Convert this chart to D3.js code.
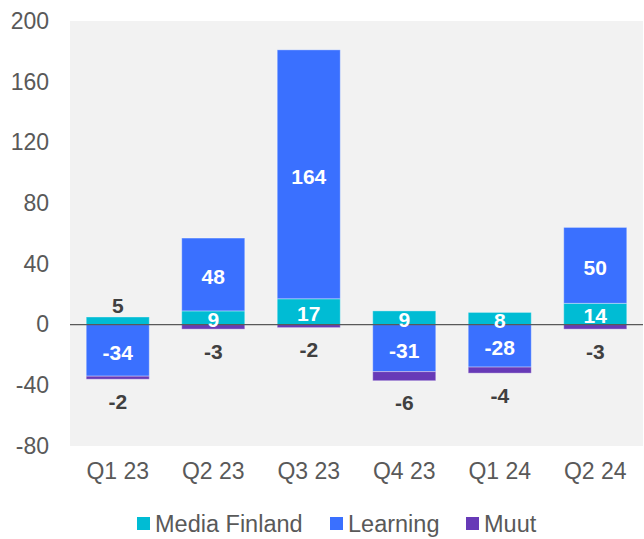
<!DOCTYPE html>
<html>
<head>
<meta charset="utf-8">
<script src="https://cdn.jsdelivr.net/npm/d3@7"></script>
<style>
    body { margin: 0; background: #fff; }
    text { font-family: "Liberation Sans", Arial, sans-serif; }
</style>
</head>
<body>
<div id="chart"></div>
<script>
const quarters = ["Q1 23", "Q2 23", "Q3 23", "Q4 23", "Q1 24", "Q2 24"];
const mediaFinland = [5, 9, 17, 9, 8, 14];
const learning = [-34, 48, 164, -31, -28, 50];
const muut = [-2, -3, -2, -6, -4, -3];
const seriesNames = ["Media Finland", "Learning", "Muut"];
const yTicks = [-80, -40, 0, 40, 80, 120, 160, 200];

const colors = {"Media Finland": "#00bcd4", "Learning": "#3a70ff", "Muut": "#673ab7"};

const width = 644, height = 539;
const margin = {top: 21, right: 1, bottom: 93, left: 70};

const svg = d3.select("#chart").append("svg")
    .attr("width", width)
    .attr("height", height);

// rows for the stack
let rows = quarters.map(function(q, i) {
    return {quarter: q, "Media Finland": mediaFinland[i], "Learning": learning[i], "Muut": muut[i]};
});

let stacked = d3.stack()
    .keys(seriesNames)
    .offset(d3.stackOffsetDiverging)(rows);

let x = d3.scaleBand()
    .domain(quarters)
    .range([margin.left, width - margin.right])
    .paddingInner(0.34)
    .paddingOuter(0.17);

let y = d3.scaleLinear()
    .domain([-80, 200])
    .range([height - margin.bottom, margin.top]);

// plot background
svg.append("rect")
    .attr("x", margin.left)
    .attr("y", margin.top)
    .attr("width", width - margin.right - margin.left)
    .attr("height", y(-80) - y(200))
    .attr("fill", "#f2f2f2");

// y axis labels
svg.append("g")
    .attr("transform", "translate(49,0)")
    .call(d3.axisLeft(y).tickValues(yTicks).tickFormat(d => String(d)).tickSize(0).tickPadding(0))
    .call(g => g.select(".domain").remove())
    .selectAll("text")
    .attr("fill", "#595959")
    .style("font-size", "23px");

// x axis labels
svg.append("g")
    .attr("transform", `translate(0,${y(-80) + 17})`)
    .call(d3.axisBottom(x).tickSize(0).tickPadding(0))
    .call(g => g.select(".domain").remove())
    .selectAll("text")
    .attr("fill", "#595959")
    .attr("dy", "0.71em")
    .style("font-size", "23px");

// bars
let layers = svg.selectAll(".layer")
    .data(stacked)
    .enter().append("g")
    .attr("class", "layer")
    .attr("fill", d => colors[d.key]);

layers.selectAll("rect")
    .data(d => d)
    .enter().append("rect")
    .attr("x", d => x(d.data.quarter))
    .attr("y", d => y(Math.max(d[0], d[1])))
    .attr("width", x.bandwidth())
    .attr("height", d => Math.abs(y(d[0]) - y(d[1])))
    .attr("stroke", "rgba(255,255,255,0.35)")
    .attr("stroke-width", 1);

// zero line
svg.append("line")
    .attr("x1", margin.left)
    .attr("x2", width - margin.right)
    .attr("y1", y(0))
    .attr("y2", y(0))
    .attr("stroke", "#595959")
    .attr("stroke-width", 1.3);

// value labels
let labels = svg.append("g")
    .style("font-size", "21px")
    .style("font-weight", "bold")
    .attr("text-anchor", "middle")
    .attr("dominant-baseline", "central");

stacked.forEach(function(layer) {
    layer.forEach(function(d) {
        let v = d.data[layer.key];
        let cx = x(d.data.quarter) + x.bandwidth() / 2;
        let top = y(Math.max(d[0], d[1])), bottom = y(Math.min(d[0], d[1]));
        let ly, fill = "#fff";
        if (layer.key === "Muut") {
            ly = bottom + 22;
            fill = "#404040";
        } else if (layer.key === "Media Finland" && v <= 5) {
            ly = top - 11;
            fill = "#404040";
        } else {
            ly = (top + bottom) / 2 + 2;
        }
        labels.append("text")
            .attr("x", cx)
            .attr("y", ly)
            .attr("fill", fill)
            .text(v);
    });
});

// legend
let legendPos = [137, 330, 466];
let legend = svg.append("g")
    .selectAll("g")
    .data(seriesNames)
    .enter().append("g")
    .attr("transform", (d, i) => `translate(${legendPos[i]},517)`);

legend.append("rect")
    .attr("width", 13)
    .attr("height", 13)
    .attr("fill", d => colors[d]);

legend.append("text")
    .attr("x", 18)
    .attr("y", 7)
    .attr("dominant-baseline", "central")
    .attr("fill", "#595959")
    .style("font-size", "23.5px")
    .text(d => d);
</script>
</body>
</html>
